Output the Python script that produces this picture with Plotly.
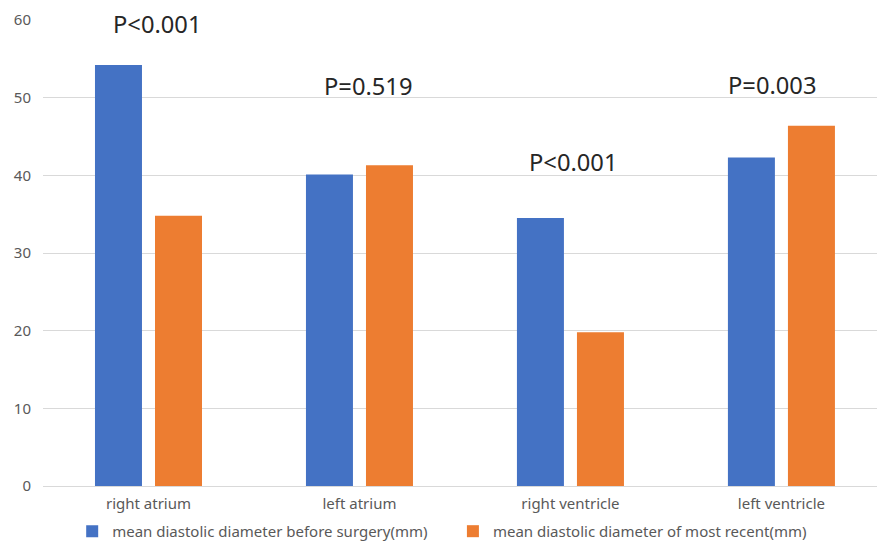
import plotly.graph_objects as go

# Cardiac chamber diastolic diameters (mm)
chambers = ["right atrium", "left atrium", "right ventricle", "left ventricle"]
before_surgery = [54.2, 40.1, 34.5, 42.3]
most_recent = [34.8, 41.3, 19.8, 46.4]
p_values = ["P<0.001", "P=0.519", "P<0.001", "P=0.003"]
series_names = [
    "mean diastolic diameter before surgery(mm)",
    "mean diastolic diameter of most recent(mm)",
]
series_colors = ["#4472C4", "#ED7D31"]
y_ticks = [0, 10, 20, 30, 40, 50, 60]

# Placement of the significance labels (category offset, height on the y scale)
p_label_dx = [0.04, 0.04, 0.01, -0.045]
p_label_y = [59.5, 51.5, 41.7, 51.6]

FONT = "Noto Sans, Liberation Sans, sans-serif"
TICK_COLOR = "#595959"
GRID_COLOR = "#D9D9D9"

fig = go.Figure()
for name, values, color, leg in zip(series_names, [before_surgery, most_recent],
                                    series_colors, ["legend", "legend2"]):
    fig.add_trace(go.Bar(
        x=chambers, y=values, name=name,
        marker=dict(color=color, line=dict(width=0)),
        legend=leg,
    ))

for i, (txt, dx, yv) in enumerate(zip(p_values, p_label_dx, p_label_y)):
    fig.add_annotation(
        x=i + dx, y=yv, xref="x", yref="y", text=txt, showarrow=False,
        font=dict(family=FONT, size=23.7, color="#262626"),
        xanchor="center", yanchor="middle",
    )

legend_style = dict(
    orientation="h", yanchor="middle", y=-0.0975, xanchor="left",
    font=dict(family=FONT, size=15, color=TICK_COLOR),
    bgcolor="rgba(0,0,0,0)", borderwidth=0,
)

fig.update_layout(
    width=877, height=542,
    margin=dict(l=43, r=0, t=20, b=56, autoexpand=False),
    paper_bgcolor="white", plot_bgcolor="white",
    barmode="group", bargap=0.431, bargroupgap=0.217,
    showlegend=True,
    legend=dict(x=0.035, **legend_style),
    legend2=dict(x=0.4915, **legend_style),
    font=dict(family=FONT),
    xaxis=dict(
        type="category", range=[-0.5, 3.453],
        showgrid=False, showline=False, zeroline=False,
        tickfont=dict(family=FONT, size=15, color=TICK_COLOR),
        ticklabelstandoff=7,
    ),
    yaxis=dict(
        range=[0, 60], tickvals=y_ticks,
        showgrid=True, gridcolor=GRID_COLOR, gridwidth=1,
        zeroline=True, zerolinecolor=GRID_COLOR, zerolinewidth=1,
        showline=False,
        tickfont=dict(family=FONT, size=15, color=TICK_COLOR),
        ticklabelstandoff=11,
    ),
)

fig.write_html("out.html")
